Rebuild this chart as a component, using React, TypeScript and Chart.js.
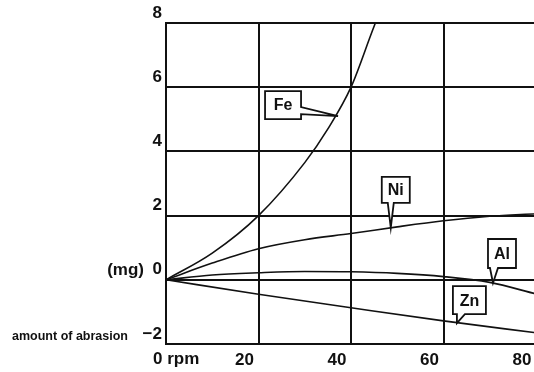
import React, { useEffect, useRef } from "react";
import { Chart, registerables } from "chart.js";

Chart.register(...registerables);

// rpm sample positions and read-off abrasion amounts (mg)
const feRpm = [0, 10, 20, 30, 35, 40, 45, 47];
const feVal = [0, 0.83, 2.0, 3.65, 4.7, 6.0, 7.9, 8.6];
const niRpm = [0, 10, 20, 30, 40, 50, 60, 70, 80];
const niVal = [0, 0.52, 0.97, 1.25, 1.44, 1.65, 1.84, 1.98, 2.06];
const alRpm = [0, 10, 20, 30, 40, 50, 60, 70, 80];
const alVal = [0, 0.15, 0.22, 0.26, 0.25, 0.2, 0.1, -0.08, -0.44];
const znRpm = [0, 20, 40, 60, 80];
const znVal = [0, -0.45, -0.87, -1.28, -1.65];

const xTicks = [0, 20, 40, 60, 80];
const yTicks = [-2, 0, 2, 4, 6, 8];

// callout labels: name, tip (data coords)
const calloutNames = ["Fe", "Ni", "Al", "Zn"];
const calloutTipRpm = [37.2, 48.6, 70.7, 62.9];
const calloutTipVal = [5.1, 1.62, -0.1, -1.35];

const INK = "#111";
const FONT = "'Liberation Sans', Arial, sans-serif";

type Callout = {
  bx: number; by: number; w: number; h: number;
  side: "right" | "bottom"; b1: number; b2: number;
};
// box geometry relative to tip (pixels)
const calloutGeom: Callout[] = [
  { bx: -73, by: -25, w: 36, h: 28, side: "right", b1: -9, b2: -2 },
  { bx: -9, by: -51, w: 28, h: 26, side: "bottom", b1: -3, b2: 3 },
  { bx: -5, by: -44, w: 28, h: 29, side: "bottom", b1: -3, b2: 5 },
  { bx: -4, by: -37, w: 33, h: 28, side: "bottom", b1: 0, b2: 8 },
];

const pts = (xs: number[], ys: number[]) => xs.map((x, i) => ({ x, y: ys[i] }));

const annotPlugin = {
  id: "annot",
  afterDraw(chart: any) {
    const ctx = chart.ctx as CanvasRenderingContext2D;
    const xs = chart.scales.x;
    const ys = chart.scales.y;
    ctx.save();
    ctx.fillStyle = INK;
    ctx.strokeStyle = INK;
    // axis texts
    ctx.textBaseline = "middle";
    ctx.font = `bold 17px ${FONT}`;
    ctx.textAlign = "left";
    const x0 = xs.getPixelForValue(0);
    const yb = ys.getPixelForValue(-2);
    ctx.fillText("0 rpm", x0 - 13, yb + 15);
    ctx.textAlign = "right";
    ctx.fillText("(mg)", x0 - 22, ys.getPixelForValue(0) - 9);
    ctx.font = `bold 12.5px ${FONT}`;
    ctx.fillText("amount of abrasion", x0 - 38, yb - 7);

    // callouts
    ctx.lineWidth = 1.8;
    ctx.lineJoin = "miter";
    calloutNames.forEach((name, i) => {
      const g = calloutGeom[i];
      const tx = xs.getPixelForValue(calloutTipRpm[i]);
      const ty = ys.getPixelForValue(calloutTipVal[i]);
      const L = tx + g.bx, T = ty + g.by, R = L + g.w, B = T + g.h;
      ctx.beginPath();
      if (g.side === "right") {
        ctx.moveTo(L, T);
        ctx.lineTo(R, T);
        ctx.lineTo(R, ty + g.b1);
        ctx.lineTo(tx, ty);
        ctx.lineTo(R, ty + g.b2);
        ctx.lineTo(R, B);
        ctx.lineTo(L, B);
        ctx.closePath();
      } else {
        ctx.moveTo(L, T);
        ctx.lineTo(R, T);
        ctx.lineTo(R, B);
        ctx.lineTo(tx + g.b2, B);
        ctx.lineTo(tx, ty);
        ctx.lineTo(tx + g.b1, B);
        ctx.lineTo(L, B);
        ctx.closePath();
      }
      ctx.fillStyle = "#fff";
      ctx.fill();
      ctx.stroke();
      ctx.fillStyle = INK;
      ctx.font = `bold 16px ${FONT}`;
      ctx.textAlign = "center";
      ctx.textBaseline = "middle";
      ctx.fillText(name, (L + R) / 2, (T + B) / 2 + 1);
    });
    ctx.restore();
  },
};

export default function App() {
  const ref = useRef<HTMLCanvasElement>(null);
  useEffect(() => {
    document.body.style.margin = "0";
    document.documentElement.style.overflow = "hidden";
    document.body.style.overflow = "hidden";
    const line = (data: { x: number; y: number }[]) => ({
      data,
      borderColor: INK,
      borderWidth: 1.6,
      pointRadius: 0,
      fill: false,
      cubicInterpolationMode: "monotone" as const,
    });
    const chart = new Chart(ref.current!, {
      type: "line",
      data: {
        datasets: [
          { label: "Fe", ...line(pts(feRpm, feVal)) },
          { label: "Ni", ...line(pts(niRpm, niVal)) },
          { label: "Al", ...line(pts(alRpm, alVal)) },
          { label: "Zn", ...line(pts(znRpm, znVal)) },
        ],
      },
      options: {
        animation: false,
        responsive: false,
        layout: { padding: { top: 23, right: 9, left: 0, bottom: 0 } },
        plugins: { legend: { display: false }, tooltip: { enabled: false } },
        scales: {
          x: {
            type: "linear",
            min: xTicks[0],
            max: xTicks[xTicks.length - 1],
            afterBuildTicks: (s: any) => { s.ticks = xTicks.map((v) => ({ value: v })); },
            afterFit: (s: any) => { s.height = 28; s.paddingLeft = 0; s.paddingRight = 0; },
            grid: { color: INK, lineWidth: 2, drawTicks: false },
            border: { display: true, color: INK, width: 2 },
            ticks: {
              color: INK,
              font: { family: FONT, size: 17, weight: "bold" },
              padding: 6,
              labelOffset: -14,
              maxRotation: 0,
              autoSkip: false,
              callback: (v: any) => (v === 0 ? "" : String(v)),
            },
          },
          y: {
            type: "linear",
            min: yTicks[0],
            max: yTicks[yTicks.length - 1],
            afterBuildTicks: (s: any) => { s.ticks = yTicks.map((v) => ({ value: v })); },
            afterFit: (s: any) => { s.width = 166; s.paddingTop = 0; s.paddingBottom = 0; },
            grid: { color: INK, lineWidth: 2, drawTicks: false },
            border: { display: true, color: INK, width: 2 },
            ticks: {
              color: INK,
              font: { family: FONT, size: 17, weight: "bold" },
              padding: 4,
              labelOffset: -10,
              autoSkip: false,
              callback: (v: any) => (v < 0 ? "\u2212" + Math.abs(v) : String(v)),
            },
          },
        },
      },
      plugins: [annotPlugin],
    });
    return () => chart.destroy();
  }, []);
  return (
    <div style={{ position: "absolute", left: 0, top: 0, width: 545, height: 372, background: "#fff" }}>
      <canvas ref={ref} width={545} height={372} />
    </div>
  );
}
